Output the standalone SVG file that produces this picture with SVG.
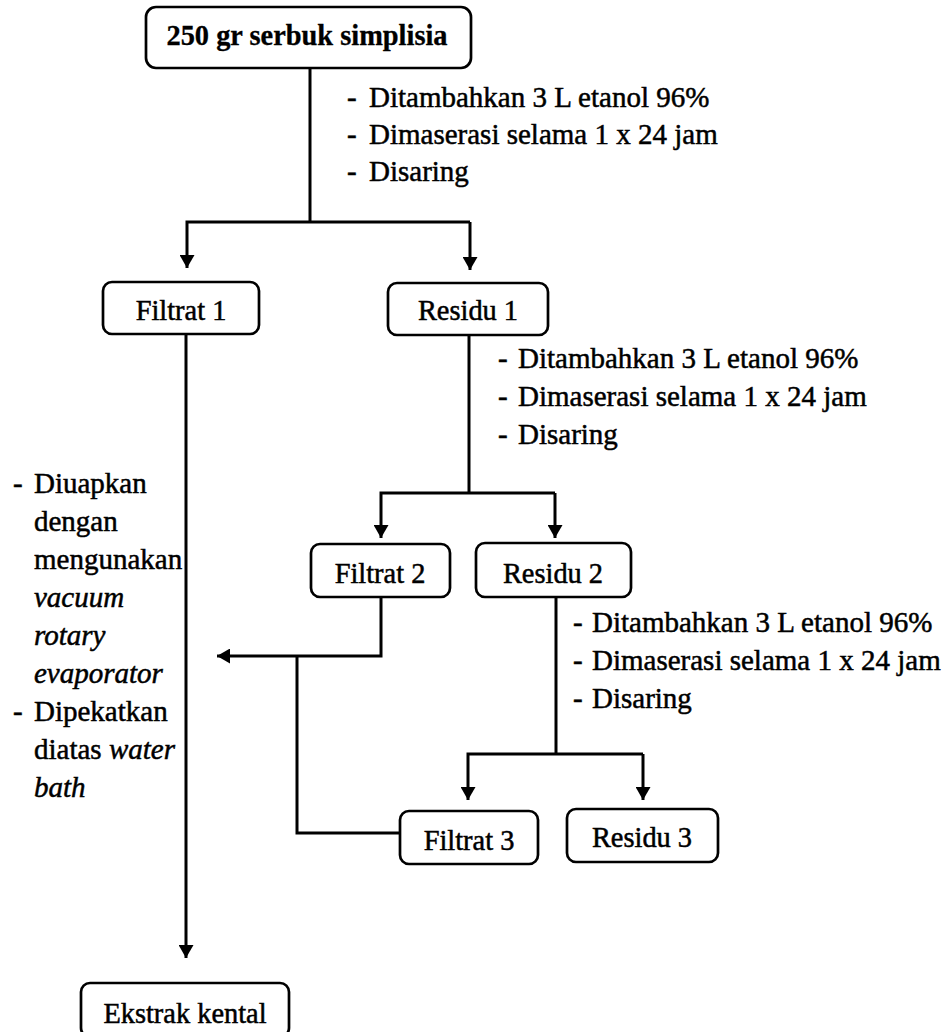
<svg xmlns="http://www.w3.org/2000/svg" width="947" height="1032" viewBox="0 0 947 1032">
<defs>
<style>
.box{fill:#fff;stroke:#000;stroke-width:2.7}
.lbl{font-family:"Liberation Serif","Times New Roman",serif;font-size:28.4px;fill:#000;stroke:#000;stroke-width:0.5;text-anchor:middle}
.step{font-family:"Liberation Serif","Times New Roman",serif;font-size:29px;fill:#000;stroke:#000;stroke-width:0.5}
.it{font-style:italic}
.ln{fill:none;stroke:#000;stroke-width:3}
</style>
<marker id="ah" markerUnits="userSpaceOnUse" markerWidth="14" markerHeight="15" refX="13" refY="7.5" orient="auto" viewBox="0 0 14 15">
<path d="M0,0 L13,7.5 L0,15 z" fill="#000"/>
</marker>
</defs>
<rect width="947" height="1032" fill="#fff"/>

<g id="connectors">
<path class="ln" d="M310,68 V222"/>
<path class="ln" d="M470,222 H187 V268" marker-end="url(#ah)"/>
<path class="ln" d="M470,222 V270" marker-end="url(#ah)"/>
<path class="ln" d="M469,335 V493"/>
<path class="ln" d="M555,493 H381 V538" marker-end="url(#ah)"/>
<path class="ln" d="M555,493 V538" marker-end="url(#ah)"/>
<path class="ln" d="M556,597 V754"/>
<path class="ln" d="M643,754 H468 V800" marker-end="url(#ah)"/>
<path class="ln" d="M643,754 V800" marker-end="url(#ah)"/>
<path class="ln" d="M186,334 V958" marker-end="url(#ah)"/>
<path class="ln" d="M381,597 V656 H217" marker-end="url(#ah)"/>
<path class="ln" d="M400,833 H297 V656"/>
</g>

<g id="n-serbuk">
<rect class="box" x="146" y="7" width="325" height="61" rx="10"/>
<text class="lbl" x="307" y="45" font-weight="bold" font-size="25.8" style="stroke-width:0.3">250 gr serbuk simplisia</text>
</g>
<g id="n-filtrat1">
<rect class="box" x="103" y="282" width="156" height="52" rx="9"/>
<text class="lbl" x="181" y="320">Filtrat 1</text>
</g>
<g id="n-residu1">
<rect class="box" x="388" y="283" width="160" height="52" rx="9"/>
<text class="lbl" x="468" y="320">Residu 1</text>
</g>
<g id="n-filtrat2">
<rect class="box" x="311" y="544" width="139" height="53" rx="9"/>
<text class="lbl" x="380" y="583">Filtrat 2</text>
</g>
<g id="n-residu2">
<rect class="box" x="476" y="543" width="155" height="54" rx="9"/>
<text class="lbl" x="553" y="583">Residu 2</text>
</g>
<g id="n-filtrat3">
<rect class="box" x="400" y="811" width="138" height="53" rx="9"/>
<text class="lbl" x="469" y="850">Filtrat 3</text>
</g>
<g id="n-residu3">
<rect class="box" x="567" y="809" width="151" height="53" rx="9"/>
<text class="lbl" x="642" y="847">Residu 3</text>
</g>
<g id="n-ekstrak">
<rect class="box" x="81" y="983" width="208" height="54" rx="9"/>
<text class="lbl" x="185" y="1023">Ekstrak kental</text>
</g>

<g id="steps1">
<text class="step" x="347" y="107">-<tspan x="369">Ditambahkan 3 L etanol 96%</tspan></text>
<text class="step" x="347" y="144">-<tspan x="369">Dimaserasi selama 1 x 24 jam</tspan></text>
<text class="step" x="347" y="181">-<tspan x="369">Disaring</tspan></text>
</g>
<g id="steps2">
<text class="step" x="498" y="368">-<tspan x="518">Ditambahkan 3 L etanol 96%</tspan></text>
<text class="step" x="498" y="406">-<tspan x="518">Dimaserasi selama 1 x 24 jam</tspan></text>
<text class="step" x="498" y="444">-<tspan x="518">Disaring</tspan></text>
</g>
<g id="steps3">
<text class="step" x="573" y="632">-<tspan x="592">Ditambahkan 3 L etanol 96%</tspan></text>
<text class="step" x="573" y="670">-<tspan x="592">Dimaserasi selama 1 x 24 jam</tspan></text>
<text class="step" x="573" y="708">-<tspan x="592">Disaring</tspan></text>
</g>
<g id="steps-left">
<text class="step" x="13" y="493">-<tspan x="34">Diuapkan</tspan></text>
<text class="step" x="34" y="531">dengan</text>
<text class="step" x="34" y="569">mengunakan</text>
<text class="step it" x="34" y="607">vacuum</text>
<text class="step it" x="34" y="645">rotary</text>
<text class="step it" x="34" y="683">evaporator</text>
<text class="step" x="13" y="721">-<tspan x="34">Dipekatkan</tspan></text>
<text class="step" x="34" y="759">diatas <tspan class="it">water</tspan></text>
<text class="step it" x="34" y="797">bath</text>
</g>
</svg>
